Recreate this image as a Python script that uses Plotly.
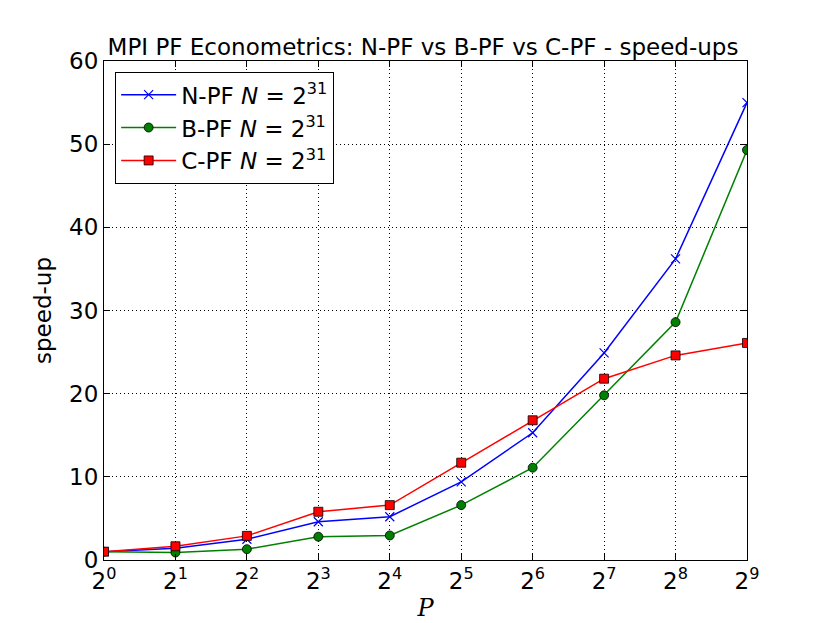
import plotly.graph_objects as go
import math

P = [1, 2, 4, 8, 16, 32, 64, 128, 256, 512]
npf = [1.0, 1.4, 2.5, 4.6, 5.2, 9.4, 15.3, 24.9, 36.2, 55.0]
bpf = [1.0, 0.9, 1.3, 2.8, 2.95, 6.6, 11.1, 19.8, 28.6, 49.3]
cpf = [1.0, 1.65, 2.9, 5.8, 6.6, 11.7, 16.8, 21.8, 24.6, 26.1]
xtick_vals = [1, 2, 4, 8, 16, 32, 64, 128, 256, 512]
xtick_text = ["2<sup>%d</sup>" % k for k in range(10)]
ytick_vals = [0, 10, 20, 30, 40, 50, 60]
names = ["N-PF <i>N</i> = 2<sup>31</sup>", "B-PF <i>N</i> = 2<sup>31</sup>", "C-PF <i>N</i> = 2<sup>31</sup>"]

FAM = "DejaVu Sans, Verdana, Bitstream Vera Sans, sans-serif"

fig = go.Figure()
fig.add_trace(go.Scatter(x=P, y=npf, name=names[0], mode="lines+markers",
                         line=dict(color="#0000ff", width=1.5),
                         marker=dict(symbol="x-thin", size=9, color="#0000ff",
                                     line=dict(color="#0000ff", width=1.2))))
fig.add_trace(go.Scatter(x=P, y=bpf, name=names[1], mode="lines+markers",
                         line=dict(color="#008000", width=1.5),
                         marker=dict(symbol="circle", size=9, color="#008000",
                                     line=dict(color="black", width=0.8))))
fig.add_trace(go.Scatter(x=P, y=cpf, name=names[2], mode="lines+markers",
                         line=dict(color="#ff0000", width=1.5),
                         marker=dict(symbol="square", size=9, color="#ff0000",
                                     line=dict(color="black", width=0.8))))

axis_common = dict(showline=True, linecolor="black", linewidth=1.2, mirror="ticks",
                   ticks="inside", ticklen=6, tickcolor="black",
                   showgrid=True, gridcolor="black", griddash="1px,3px", gridwidth=0.8,
                   zeroline=False, tickfont=dict(size=23, color="black", family=FAM))

fig.update_layout(
    width=830, height=623,
    margin=dict(l=96, r=91, t=53, b=71),
    paper_bgcolor="white", plot_bgcolor="white",
    font=dict(family=FAM, color="black"),
    title=dict(text="MPI PF Econometrics: N-PF vs B-PF vs C-PF - speed-ups",
               x=0.5, xanchor="center", y=0.937, yanchor="middle",
               font=dict(size=23, color="black", family=FAM)),
    xaxis=dict(type="log", range=[0, math.log10(512)], tickvals=xtick_vals,
               ticktext=xtick_text,
               title=dict(text="<i>P</i>", font=dict(size=24, family="DejaVu Serif"), standoff=6),
               **axis_common),
    yaxis=dict(range=[0, 60], tickvals=ytick_vals,
               title=dict(text="speed-up", font=dict(size=23, family=FAM), standoff=10),
               **axis_common),
    legend=dict(x=0.017, y=0.978, xanchor="left", yanchor="top",
                bgcolor="white", bordercolor="black", borderwidth=1.2,
                font=dict(size=23, color="black", family=FAM), tracegroupgap=2,
                itemwidth=55),
    showlegend=True,
)

fig.write_html("out.html")
